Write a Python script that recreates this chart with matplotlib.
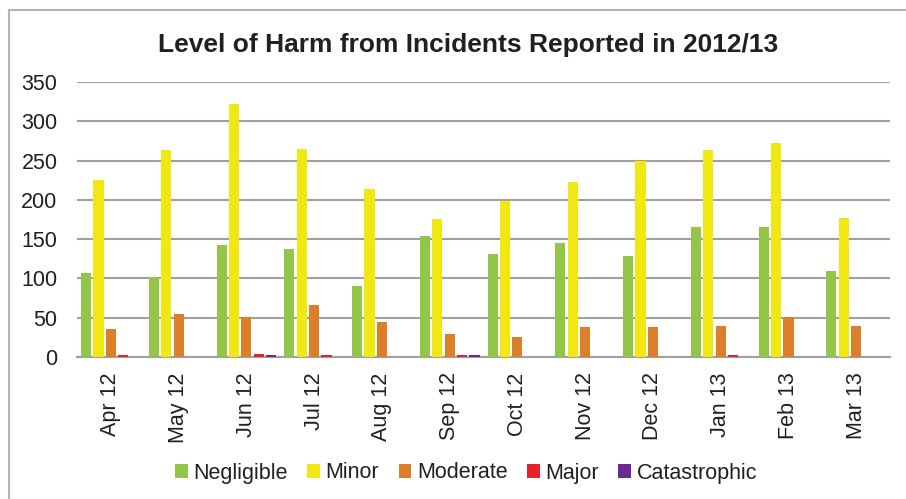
import numpy as np
import matplotlib.pyplot as plt
from matplotlib.lines import Line2D

plt.rcParams['font.family'] = ['Liberation Sans', 'DejaVu Sans']

months = ['Apr 12', 'May 12', 'Jun 12', 'Jul 12', 'Aug 12', 'Sep 12',
          'Oct 12', 'Nov 12', 'Dec 12', 'Jan 13', 'Feb 13', 'Mar 13']
negligible = [107, 102, 143, 137, 90, 154, 131, 145, 129, 166, 165, 110]
minor = [225, 264, 322, 265, 214, 176, 198, 223, 249, 263, 272, 177]
moderate = [36, 55, 51, 66, 45, 29, 25, 38, 38, 39, 51, 40]
major = [2, 0.5, 4, 2, 0.5, 2, 0.5, 0, 0.5, 2, 0, 0]
catastrophic = [0, 0, 3, 0, 0.5, 2, 0.5, 0.5, 0.5, 0, 0.5, 0]

series = [
    ('Negligible', negligible, '#92C548'),
    ('Minor', minor, '#F2E811'),
    ('Moderate', moderate, '#DD7F2A'),
    ('Major', major, '#E8202A'),
    ('Catastrophic', catastrophic, '#6A2A8E'),
]

fig = plt.figure(figsize=(9.06, 4.99), dpi=100)
ax = fig.add_axes([0.085, 0.2846, 0.8974, 0.5511])

x = np.arange(len(months))
step = 0.183
for i, (name, vals, color) in enumerate(series):
    ax.bar(x + (i - 2) * step, vals, width=0.15, color=color, label=name, zorder=3)

ax.set_xlim(-0.5, len(months) - 0.5)
ax.set_ylim(0, 350)
ax.set_yticks(range(0, 351, 50))
ax.yaxis.grid(True, color='#A0A0A0', linewidth=1.5, zorder=0)
ax.set_axisbelow(True)
for side in ['top', 'right', 'left']:
    ax.spines[side].set_visible(False)
ax.spines['bottom'].set_color('#A0A0A0')
ax.spines['bottom'].set_linewidth(1.5)

ax.set_xticks(x)
ax.set_xticklabels(months, rotation=90)
ax.tick_params(axis='both', length=0, labelsize=15.5, colors='#231F20')
ax.tick_params(axis='y', pad=14)
ax.tick_params(axis='x', pad=11)

fig.text(468 / 906, 1 - 45 / 499, 'Level of Harm from Incidents Reported in 2012/13',
         ha='center', va='center', fontsize=19, fontweight='bold', color='#231F20')

fig.legend(loc='center', bbox_to_anchor=(466 / 906, 1 - 473 / 499), ncol=5,
           frameon=False, fontsize=15.5, handlelength=0.6, handleheight=0.6,
           handletextpad=0.25, columnspacing=0.9, labelcolor='#231F20')

# outer chart border (left and top edges)
fig.add_artist(Line2D([9 / 906, 9 / 906], [0, 1 - 10 / 499],
                      transform=fig.transFigure, color='#B4B4B4', linewidth=1.5))
fig.add_artist(Line2D([9 / 906, 1], [1 - 10 / 499, 1 - 10 / 499],
                      transform=fig.transFigure, color='#B4B4B4', linewidth=1.5))

fig.savefig('out.png', dpi=100)
